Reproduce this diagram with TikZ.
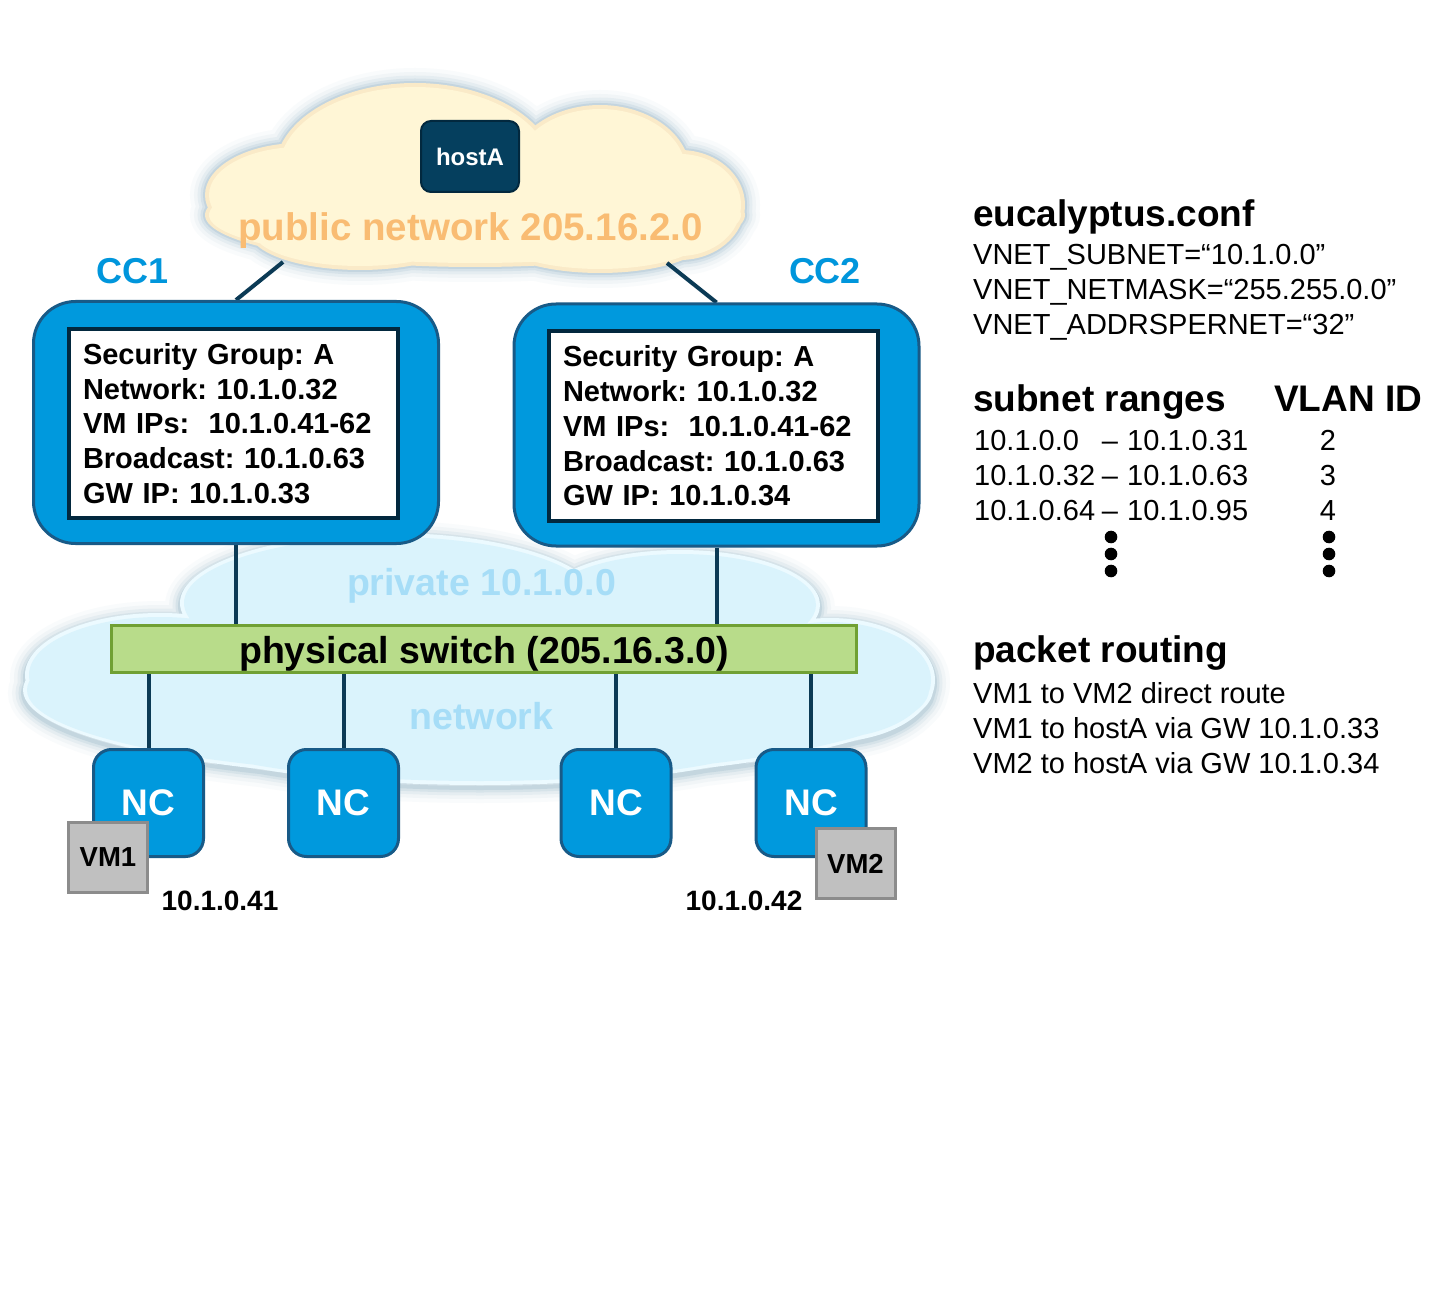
\documentclass[tikz,border=0pt]{standalone}
\usepackage{fontspec}
\setmainfont{Liberation Sans}
\usetikzlibrary{calc}
\frenchspacing
\definecolor{ccblue}{RGB}{0,153,221}
\definecolor{ccborder}{RGB}{24,90,135}
\definecolor{navy}{RGB}{11,58,85}
\definecolor{hostfill}{RGB}{5,63,94}
\definecolor{hostdraw}{RGB}{2,40,62}
\definecolor{swfill}{RGB}{184,220,138}
\definecolor{swdraw}{RGB}{112,160,52}
\definecolor{vmfill}{RGB}{192,192,192}
\definecolor{vmdraw}{RGB}{140,140,140}
\definecolor{pubtext}{RGB}{249,188,115}
\definecolor{privtext}{RGB}{166,221,247}
\definecolor{cloudY}{RGB}{255,246,214}
\definecolor{rimY}{RGB}{250,234,200}
\definecolor{cloudB}{RGB}{218,243,252}
\definecolor{rimB}{RGB}{236,250,255}
\definecolor{glowY}{RGB}{150,180,198}
\definecolor{glowB}{RGB}{150,182,200}
\definecolor{labelblue}{RGB}{0,150,220}
\newcommand{\fsz}[2]{\fontsize{#1}{#2}\selectfont}
% cloud outlines as unions of ellipses; #1 shrinks every radius
\newcommand{\topcloudpath}[1]{
  (475,215) ellipse[x radius=270pt-#1,y radius=52pt-#1]
  (300,195) ellipse[x radius=95pt-#1,y radius=52pt-#1]
  (415,170) ellipse[x radius=140pt-#1,y radius=87pt-#1]
  (600,172) ellipse[x radius=90pt-#1,y radius=67pt-#1]
  (680,205) ellipse[x radius=65pt-#1,y radius=55pt-#1]
  (360,232) ellipse[x radius=110pt-#1,y radius=38pt-#1]
  (600,235) ellipse[x radius=110pt-#1,y radius=38pt-#1]}
\newcommand{\botcloudpath}[1]{
  (478,690) ellipse[x radius=455pt-#1,y radius=90pt-#1]
  (160,675) ellipse[x radius=135pt-#1,y radius=62pt-#1]
  (390,603) ellipse[x radius=210pt-#1,y radius=70pt-#1]
  (680,605) ellipse[x radius=140pt-#1,y radius=55pt-#1]
  (830,680) ellipse[x radius=105pt-#1,y radius=62pt-#1]
  (480,735) ellipse[x radius=300pt-#1,y radius=50pt-#1]}
\pgfdeclarelayer{bg}
\pgfdeclarelayer{wirelayer}
\pgfsetlayers{bg,wirelayer,main}
\begin{document}
\begin{tikzpicture}[x=1pt,y=-1pt,
  wire/.style={draw=navy,line width=4pt},
  ccbox/.style={draw=ccborder,fill=ccblue,line width=3pt,rounded corners=42pt,inner sep=0pt,minimum width=405pt,minimum height=242pt},
  infobox/.style={draw=hostdraw,fill=white,line width=4pt,inner xsep=14pt,inner ysep=0pt,align=left,text width=301pt,minimum height=189pt,font=\fsz{29}{34.75}\bfseries},
  ncbox/.style={draw=ccborder,fill=ccblue,line width=3pt,rounded corners=18pt,minimum width=110pt,minimum height=107pt,inner sep=0pt,text=white,font=\fsz{37}{44}\bfseries},
  vmbox/.style={draw=vmdraw,fill=vmfill,line width=3pt,minimum width=79pt,minimum height=70pt,inner sep=0pt,font=\fsz{27.5}{33}\bfseries},
  hostbox/.style={draw=hostdraw,fill=hostfill,line width=2pt,rounded corners=10pt,minimum width=98pt,minimum height=71pt,inner sep=0pt,text=white,font=\fsz{24}{29}\bfseries},
  swbox/.style={draw=swdraw,fill=swfill,line width=3pt,minimum width=745pt,minimum height=47pt,inner sep=0pt,text height=28pt,text depth=0pt,font=\fsz{37.5}{45}\bfseries},
  cclabel/.style={anchor=base,inner sep=0pt,text=labelblue,font=\fsz{36}{43}\bfseries},
  cloudlabel/.style={anchor=base,inner sep=0pt,font=\fsz{37.5}{45}\bfseries},
  iplabel/.style={anchor=base,inner sep=0pt,font=\fsz{28}{34}\bfseries},
  head/.style={anchor=base west,inner sep=0pt,font=\fsz{37}{44}\bfseries},
  body/.style={anchor=base west,inner sep=0pt,font=\fsz{29}{35}},
  bodyc/.style={anchor=base,inner sep=0pt,font=\fsz{29}{35}},
  dotmark/.style={fill=black}
]
\useasboundingbox (0,0) rectangle (1446,1305);

% background and clouds
\begin{pgfonlayer}{bg}
\fill[white] (0,0) rectangle (1446,1305);
\foreach \w/\o in {30/0.05,22/0.08,15/0.12,9/0.18,4/0.28}{
  \draw[glowY,line width=\w pt,opacity=\o] \topcloudpath{0pt};
  \draw[glowB,line width=\w pt,opacity=\o,yshift=-3pt] \botcloudpath{0pt};
}
\fill[rimY] \topcloudpath{0pt};
\fill[cloudY] \topcloudpath{4pt};
\fill[rimB] \botcloudpath{0pt};
\fill[cloudB] \botcloudpath{4pt};
\end{pgfonlayer}

% cloud texts
\node[cloudlabel,text=pubtext,font=\fsz{38.5}{46}\bfseries] (pubtxt) at (470.5,241) {public network 205.16.2.0};
\node[cloudlabel,text=privtext] (privtxt) at (481.5,595) {private 10.1.0.0};
\node[cloudlabel,text=privtext] (nettxt) at (481.5,729) {network};

% host
\node[hostbox] (hostA) at (470,156.5) {hostA};

% CC labels
\node[cclabel] (cc1lbl) at (133,283.5) {CC1};
\node[cclabel] (cc2lbl) at (825,283.5) {CC2};

% CC boxes
\node[ccbox] (cc1) at (236,422.5) {};
\node[infobox] (sg1) at (233.5,423.5) {Security Group: A\\Network: 10.1.0.32\\VM IPs:\ \ 10.1.0.41-62\\Broadcast: 10.1.0.63\\GW IP: 10.1.0.33};
\node[ccbox] (cc2) at (716.5,425) {};
\node[infobox] (sg2) at (713.5,426) {Security Group: A\\Network: 10.1.0.32\\VM IPs:\ \ 10.1.0.41-62\\Broadcast: 10.1.0.63\\GW IP: 10.1.0.34};

% switch
\node[swbox] (sw) at (484,649) {physical switch (205.16.3.0)\hspace{40pt}};

% NCs
\node[ncbox] (nc1) at (148.5,803) {NC};
\node[ncbox] (nc2) at (343.5,803) {NC};
\node[ncbox] (nc3) at (616,803) {NC};
\node[ncbox] (nc4) at (811,803) {NC};

% VMs
\node[vmbox] (vm1) at (108,857.5) {VM1};
\node[vmbox] (vm2) at (855.5,863.5) {VM2};
\node[iplabel] (ip1) at (220,910) {10.1.0.41};
\node[iplabel] (ip2) at (744,910) {10.1.0.42};

% wires
\coordinate (pubL) at (283,262);
\coordinate (pubR) at (667,263);
\begin{pgfonlayer}{wirelayer}
\draw[wire] (pubL) -- (cc1.north);
\draw[wire] (pubR) -- (cc2.north);
\draw[wire] (cc1.south) -- (cc1.south |- sw.north);
\draw[wire] (cc2.south) -- (cc2.south |- sw.north);
\draw[wire] (nc1.north |- sw.south) -- (nc1.north);
\draw[wire] (nc2.north |- sw.south) -- (nc2.north);
\draw[wire] (nc3.north |- sw.south) -- (nc3.north);
\draw[wire] (nc4.north |- sw.south) -- (nc4.north);
\end{pgfonlayer}

% right-hand text
\node[head] (euc) at (973,227) {eucalyptus.conf};
\node[body] (v1) at (973,265) {VNET\_SUBNET=“10.1.0.0”};
\node[body] (v2) at (973,300) {VNET\_NETMASK=“255.255.0.0”};
\node[body] (v3) at (973,335) {VNET\_ADDRSPERNET=“32”};

\node[head] (sub) at (973,412) {subnet ranges};
\node[head] (vlan) at (1274,412) {VLAN ID};
\node[body] (r1a) at (974,450) {10.1.0.0};
\node[bodyc] (r1d) at (1110,450) {–};
\node[body] (r1b) at (1127,450) {10.1.0.31};
\node[bodyc] (r1v) at (1328,450) {2};
\node[body] (r2a) at (974,485) {10.1.0.32};
\node[bodyc] (r2d) at (1110,485) {–};
\node[body] (r2b) at (1127,485) {10.1.0.63};
\node[bodyc] (r2v) at (1328,485) {3};
\node[body] (r3a) at (974,520) {10.1.0.64};
\node[bodyc] (r3d) at (1110,520) {–};
\node[body] (r3b) at (1127,520) {10.1.0.95};
\node[bodyc] (r3v) at (1328,520) {4};
\foreach \yy in {537,554,571}{
  \fill[dotmark] (1111,\yy) circle[radius=6.3pt];
  \fill[dotmark] (1329,\yy) circle[radius=6.3pt];
}

\node[head] (pr) at (973,662) {packet routing};
\node[body] (p1) at (973,703) {VM1 to VM2 direct route};
\node[body] (p2) at (973,738) {VM1 to hostA via GW 10.1.0.33};
\node[body] (p3) at (973,773) {VM2 to hostA via GW 10.1.0.34};
\end{tikzpicture}
\end{document}
